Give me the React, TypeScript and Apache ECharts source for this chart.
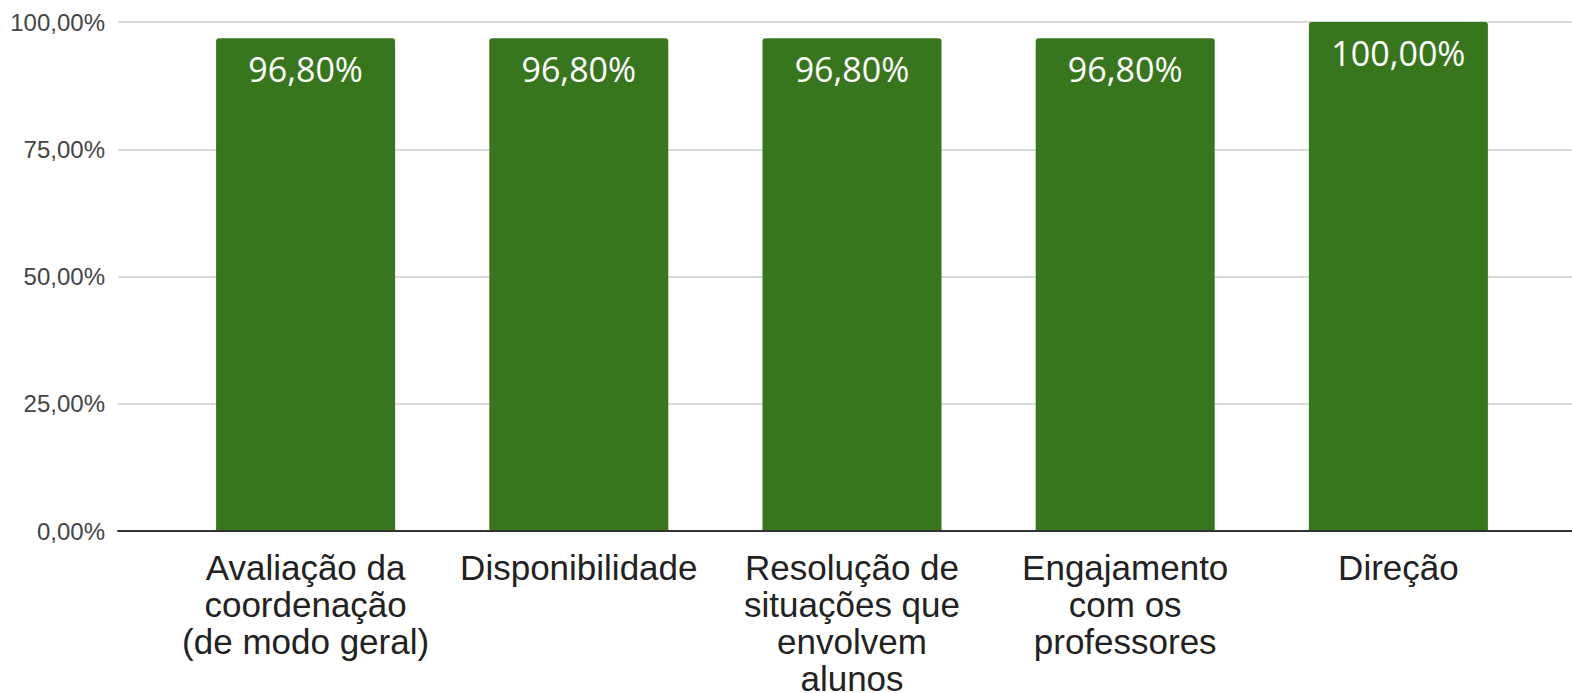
import React, { useEffect, useRef } from "react";
import * as echarts from "echarts";

const categories = [
  "Avaliação da\ncoordenação\n(de modo geral)",
  "Disponibilidade",
  "Resolução de\nsituações que\nenvolvem\nalunos",
  "Engajamento\ncom os\nprofessores",
  "Direção",
];
const values = [96.8, 96.8, 96.8, 96.8, 100];
const yTicks = [0, 25, 50, 75, 100];

const fmtPct = (v: number) => v.toFixed(2).replace(".", ",") + "%";

export default function App() {
  const ref = useRef<HTMLDivElement>(null);
  useEffect(() => {
    const chart = echarts.init(ref.current!, null, { renderer: "svg" });
    const top = 22;
    const bottom = 162;
    chart.setOption({
      animation: false,
      backgroundColor: "#ffffff",
      grid: [
        { left: 118, right: 0, top, bottom, outerBoundsMode: "none", containLabel: false },
        { left: 169, right: 37, top, bottom, outerBoundsMode: "none", containLabel: false },
      ],
      xAxis: [
        {
          gridIndex: 0,
          type: "value",
          min: 0,
          max: 1,
          axisLine: { show: true, onZero: false, lineStyle: { color: "#333333", width: 2 } },
          axisTick: { show: false },
          axisLabel: { show: false },
          splitLine: { show: false },
          z: 5,
        },
        {
          gridIndex: 1,
          type: "category",
          data: categories,
          axisLine: { show: false },
          axisTick: { show: false },
          axisLabel: {
            interval: 0,
            margin: 18,
            color: "#222222",
            fontSize: 35,
            lineHeight: 37,
            fontFamily: "Liberation Sans, Arial, sans-serif",
            align: "center",
          },
        },
      ],
      yAxis: [
        {
          gridIndex: 0,
          type: "value",
          min: yTicks[0],
          max: yTicks[yTicks.length - 1],
          interval: 25,
          axisLine: { show: false },
          axisTick: { show: false },
          axisLabel: {
            margin: 13,
            color: "#444444",
            fontSize: 24,
            fontFamily: "Liberation Sans, Arial, sans-serif",
            formatter: (v: number) => fmtPct(v),
          },
          splitLine: { show: true, lineStyle: { color: "#cccccc", width: 1.5 } },
        },
        {
          gridIndex: 1,
          type: "value",
          min: 0,
          max: 100,
          interval: 25,
          show: false,
          splitLine: { show: false },
        },
      ],
      series: [
        {
          type: "bar",
          xAxisIndex: 1,
          yAxisIndex: 1,
          data: values,
          barWidth: 179,
          itemStyle: { color: "#38761d", borderRadius: [3, 3, 0, 0] },
          label: {
            show: true,
            position: "insideTop",
            distance: 14,
            color: "#ffffff",
            fontSize: 34,
            fontFamily: "Open Sans, Noto Sans, sans-serif",
            formatter: (p: any) => fmtPct(p.value),
          },
        },
      ],
    });
    return () => chart.dispose();
  }, []);
  return (
    <div
      ref={ref}
      style={{ position: "absolute", left: 0, top: 0, width: 1572, height: 693 }}
    />
  );
}
